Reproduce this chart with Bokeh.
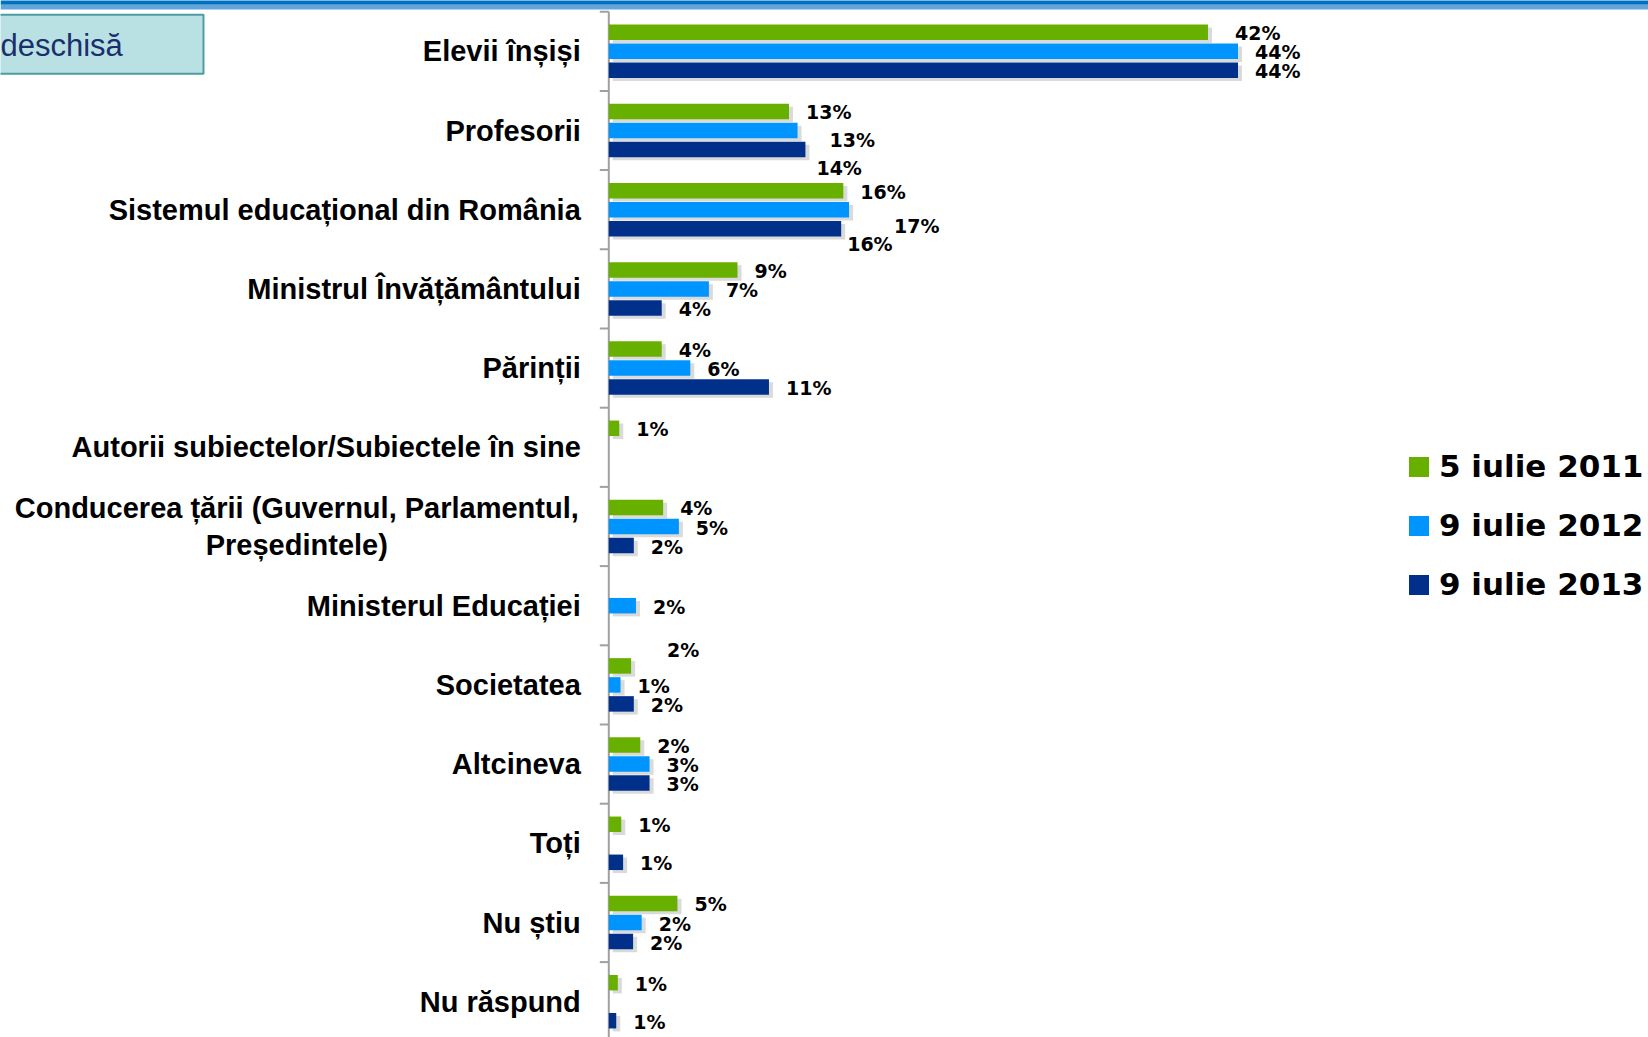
import math
from bokeh.plotting import figure
from bokeh.models import (Range1d, ColumnDataSource, Legend, LegendItem, Label, BoxAnnotation)
from bokeh.core.properties import value
from bokeh.embed import file_html
from bokeh.resources import INLINE

# ---------------- data ----------------
categories = [
    "Elevii înșiși",
    "Profesorii",
    "Sistemul educațional din România",
    "Ministrul Învățământului",
    "Părinții",
    "Autorii subiectelor/Subiectele în sine",
    "Conducerea țării (Guvernul, Parlamentul,\nPreședintele)",
    "Ministerul Educației",
    "Societatea",
    "Altcineva",
    "Toți",
    "Nu știu",
    "Nu răspund",
]
series_names = ["5 iulie 2011", "9 iulie 2012", "9 iulie 2013"]
v2011 = [41.9, 12.6, 16.4, 9.0, 3.7, 0.73, 3.8, None, 1.56, 2.2, 0.87, 4.8, 0.63]
v2012 = [44.0, 13.2, 16.8, 7.0, 5.7, None, 4.9, 1.9, 0.82, 2.85, None, 2.3, None]
v2013 = [44.0, 13.75, 16.25, 3.7, 11.2, None, 1.75, None, 1.75, 2.85, 1.0, 1.7, 0.52]
series_values = [v2011, v2012, v2013]
box_text = "deschisă"

# ---------------- style ----------------
colors = ["#67B000", "#0094FF", "#00308A"]
label_nudges = {(0, 0): (10, 0), (1, 1): (15, 8), (1, 2): (-6, 17),
                (2, 1): (28, 15), (2, 2): (-11, 14), (8, 0): (19, -17)}
LABEL_GAP = 17
W, H = 1648, 1037
AXIS_X = 608.3          # page x of the category axis line
TOP_BOUNDARY = 11.2     # page y of the first category boundary
PX_PER_PCT = 14.3
PX_PER_CAT = 79.2
X0 = -AXIS_X / PX_PER_PCT
Y0 = -0.5 - TOP_BOUNDARY / PX_PER_CAT


def xdata(px):
    return X0 + px / PX_PER_PCT


def ydata(py):
    return Y0 + py / PX_PER_CAT


p = figure(width=W, height=H, output_backend="svg", toolbar_location=None,
           x_range=Range1d(X0, X0 + W / PX_PER_PCT),
           y_range=Range1d(Y0 + H / PX_PER_CAT, Y0),
           x_axis_location=None, y_axis_location=None,
           min_border=0, min_border_left=0, min_border_right=0,
           min_border_top=0, min_border_bottom=0)
p.outline_line_color = None
p.xgrid.grid_line_color = None
p.ygrid.grid_line_color = None
p.background_fill_color = "white"
p.border_fill_color = "white"

n = len(categories)

# top stripe and the question box
p.add_layout(BoxAnnotation(top=ydata(-1), bottom=ydata(4.3), fill_color="#0070C0", fill_alpha=1, line_alpha=0))
p.add_layout(BoxAnnotation(top=ydata(4.3), bottom=ydata(9), fill_color="#62A6DC", fill_alpha=1, line_alpha=0))
p.add_layout(BoxAnnotation(left=xdata(-6), right=xdata(203), top=ydata(14.3), bottom=ydata(73.3),
                           fill_color="#B9E1E4", fill_alpha=1, line_color="#4E9CA0",
                           line_width=2, line_alpha=1))
p.add_layout(Label(x=xdata(0), y=ydata(44.5), text=box_text,
                   text_font="Liberation Sans", text_font_size="31px", text_color="#1B2F6B",
                   text_baseline="middle", text_align="left"))

# category axis: line, boundary ticks and labels
p.segment(x0=[0], y0=[-0.5], x1=[0], y1=[n + 1], line_color="#A0A0A0", line_width=2)
p.ray(x=[0] * (n + 1), y=[i - 0.5 for i in range(n + 1)], length=9, length_units="screen",
      angle=math.pi, line_color="#A0A0A0", line_width=2)
cat_src = ColumnDataSource(dict(
    y=list(range(n)), text=categories,
    align=["center" if "\n" in c else "right" for c in categories],
    xo=[-312 if "\n" in c else -28 for c in categories]))
p.text(x=0, y="y", text="text", x_offset="xo", source=cat_src, text_align="align",
       text_baseline="middle", text_font=value("Liberation Sans"), text_font_style="bold",
       text_font_size="29px", text_color="black", text_line_height=1.18)

offsets = [-0.24, 0.0, 0.24]
bar_h = 15.5 / PX_PER_CAT
sh_dx = 4 / PX_PER_PCT
sh_dy = 3 / PX_PER_CAT

sources = []
for s, vals in enumerate(series_values):
    ys, rs, labs, xo, yo = [], [], [], [], []
    for k, v in enumerate(vals):
        if v is None:
            continue
        ys.append(k + offsets[s])
        rs.append(v)
        labs.append(f"{v:.0f}%")
        dx, dy = label_nudges.get((k, s), (0, 0))
        xo.append(LABEL_GAP + dx)
        yo.append(1 + dy)
    sources.append(ColumnDataSource(dict(y=ys, right=rs, label=labs, xo=xo, yo=yo,
                                         sy=[y + sh_dy for y in ys],
                                         sl=[sh_dx] * len(ys),
                                         sr=[r + sh_dx for r in rs])))

for src in sources:
    p.hbar(y="sy", left="sl", right="sr", height=bar_h, source=src,
           fill_color="#7A7A7A", fill_alpha=0.28, line_color=None)

renderers = []
for s, src in enumerate(sources):
    r = p.hbar(y="y", left=0, right="right", height=bar_h, source=src,
               fill_color=colors[s], line_color=None)
    renderers.append(r)
    p.text(x="right", y="y", text="label", x_offset="xo", y_offset="yo", source=src,
           text_font=value("DejaVu Sans"), text_font_style="bold", text_font_size="19px",
           text_color="black", text_baseline="middle", text_align="left")

legend = Legend(items=[LegendItem(label=nm, renderers=[r]) for nm, r in zip(series_names, renderers)],
                location=(1406, 435), orientation="vertical",
                glyph_width=25, glyph_height=25, label_height=36, spacing=23,
                label_standoff=8, padding=0, margin=0,
                border_line_color=None, background_fill_alpha=0,
                label_text_font="DejaVu Sans", label_text_font_style="bold",
                label_text_font_size="31px", label_text_color="black",
                label_text_baseline="middle")
p.add_layout(legend)

open("out.html", "w").write(file_html(p, INLINE))
